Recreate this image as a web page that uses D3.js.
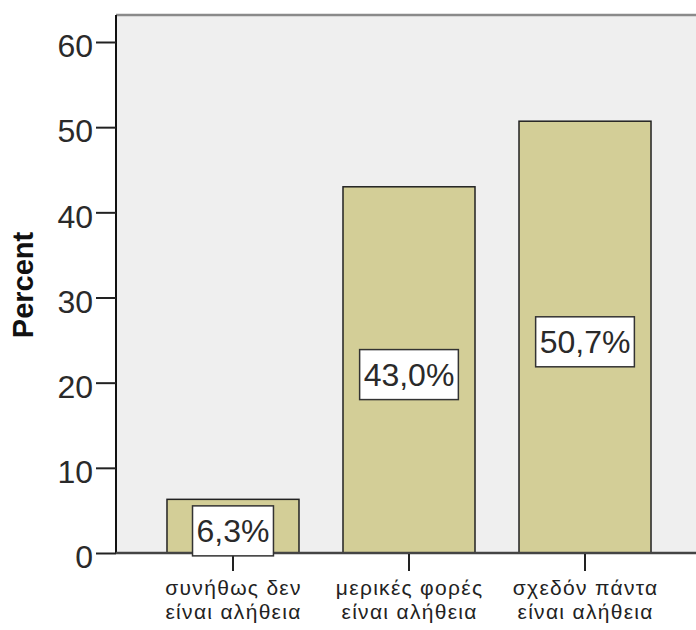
<!DOCTYPE html>
<html><head><meta charset="utf-8">
<script src="https://cdn.jsdelivr.net/npm/d3@7"></script>
<style>
html,body{margin:0;padding:0;background:#fff;}
svg{display:block;font-family:"Liberation Sans",Arial,sans-serif;}
</style></head>
<body>
<svg id="chart" width="696" height="630"></svg>
<script>
const categories = [["συνήθως δεν","είναι αλήθεια"],["μερικές φορές","είναι αλήθεια"],["σχεδόν πάντα","είναι αλήθεια"]];
const values = [6.3, 43.0, 50.7];
const valueLabels = ["6,3%", "43,0%", "50,7%"];
const yTicks = [0, 10, 20, 30, 40, 50, 60];
const yTitle = "Percent";

(function () {
const svg = d3.select("#chart");
const pLeft = 117, pRight = 701, pTop = 15, pBottom = 553;

const x = d3.scaleBand().domain(d3.range(categories.length)).range([pLeft, pRight])
  .paddingInner(0.25).paddingOuter(0.284);
const y = d3.scaleLinear().domain([0, 63.17]).range([pBottom, pTop]);

// plot background
svg.append("rect").attr("x", pLeft).attr("y", pTop).attr("width", 696 - pLeft).attr("height", pBottom - pTop)
  .attr("fill", "#efefef");
// top border
svg.append("line").attr("x1", pLeft - 1).attr("x2", 696).attr("y1", pTop).attr("y2", pTop)
  .attr("stroke", "#8a8a8a").attr("stroke-width", 2.5);

// bars
svg.selectAll("rect.bar").data(values).join("rect").attr("class", "bar")
  .attr("x", (d, i) => x(i)).attr("width", x.bandwidth())
  .attr("y", d => y(d)).attr("height", d => y(0) - y(d))
  .attr("fill", "#d3ce97").attr("stroke", "#222").attr("stroke-width", 1.5);

// y axis
const yAxis = svg.append("g").attr("transform", `translate(${pLeft - 1},0)`)
  .call(d3.axisLeft(y).tickValues(yTicks).tickSize(20).tickPadding(3).tickFormat(d3.format("d")));
yAxis.select(".domain").attr("d", `M0,${pTop}V${pBottom}`).attr("stroke", "#111").attr("stroke-width", 2);
yAxis.selectAll(".tick line").attr("stroke", "#222").attr("stroke-width", 2);
yAxis.selectAll(".tick text").attr("font-size", 32).attr("fill", "#2a2a2a")
  .attr("font-family", "Liberation Sans, Arial, sans-serif").attr("dy", "0.46em");

// x axis
const xAxis = svg.append("g").attr("transform", `translate(0,${pBottom})`)
  .call(d3.axisBottom(x).tickSize(17).tickFormat(""));
xAxis.select(".domain").attr("d", `M${pLeft - 1},0H696`).attr("stroke", "#444").attr("stroke-width", 2.5);
xAxis.selectAll(".tick line").attr("stroke", "#222").attr("stroke-width", 2)
  .attr("transform", "translate(0,1)");

// category labels
const catG = svg.append("g");
categories.forEach((lines, i) => {
  const cx = x(i) + x.bandwidth() / 2 + 0.6;
  lines.forEach((l, k) => catG.append("text").attr("text-anchor", "middle").attr("font-size", 21)
    .attr("letter-spacing", "1.3px").attr("fill", "#222")
    .attr("x", cx).attr("y", 595 + k * 23.6).text(l));
});

// value label boxes
values.forEach((v, i) => {
  const cx = x(i) + x.bandwidth() / 2;
  const cy = (y(v) + y(0)) / 2 + 4.7;
  const g = svg.append("g");
  const r = g.append("rect");
  const t = g.append("text").attr("x", cx).attr("y", cy).attr("text-anchor", "middle")
    .attr("dy", "0.36em").attr("font-size", 32).attr("fill", "#2a2a2a").text(valueLabels[i]);
  const bb = t.node().getBBox();
  const w = bb.width + 8, h = 50;
  r.attr("x", cx - w / 2).attr("y", cy - h / 2).attr("width", w).attr("height", h)
    .attr("fill", "#fff").attr("stroke", "#333").attr("stroke-width", 1.5);
});

// y title
svg.append("text").attr("transform", "translate(33,285) rotate(-90)").attr("text-anchor", "middle")
  .attr("font-size", 29).attr("font-weight", "bold").attr("fill", "#111").text(yTitle);
})();
</script>
</body></html>
